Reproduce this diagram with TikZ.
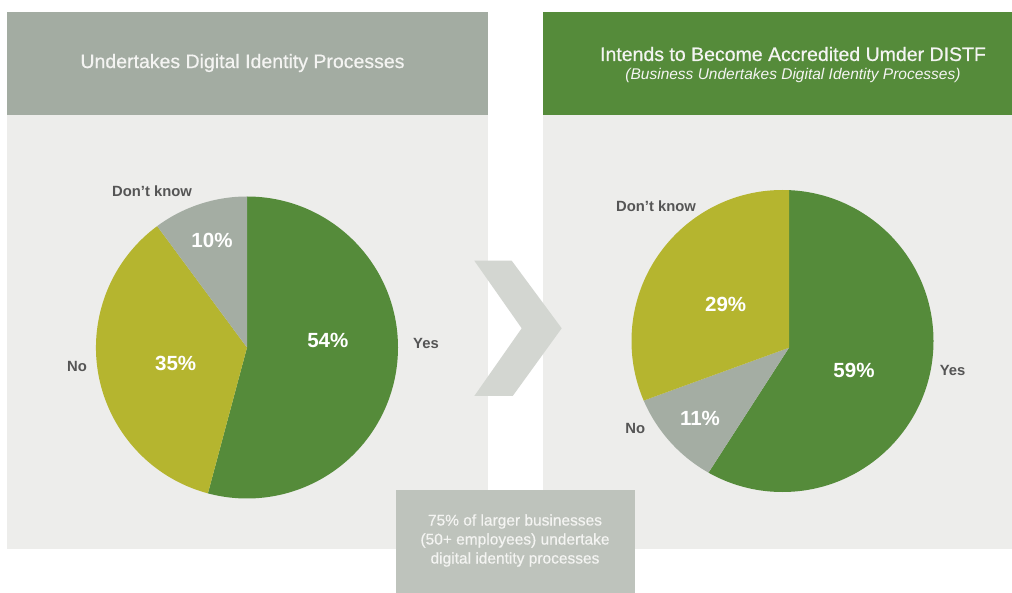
\documentclass[tikz,border=0pt]{standalone}
\usepackage{fontspec}
\setmainfont{Liberation Sans}
\newfontfamily\medfont[FakeBold=0.6]{Liberation Sans}
\newfontfamily\meditfont[FakeBold=0.4,FakeSlant=0.2]{Liberation Sans}
\definecolor{hdrgray}{HTML}{A3ACA2}
\definecolor{hdrgreen}{HTML}{558B3A}
\definecolor{bodybg}{HTML}{EDEDEB}
\definecolor{pieyes}{HTML}{558B3A}
\definecolor{pieno}{HTML}{B5B52F}
\definecolor{piedk}{HTML}{A4ADA3}
\definecolor{callbg}{HTML}{BEC3BC}
\definecolor{chev}{HTML}{D3D6D1}
\definecolor{labtxt}{HTML}{555555}
\definecolor{ltxt}{HTML}{F4F4F2}
\tikzset{
  title/.style={text=ltxt, font=\medfont\fontsize{19.5}{22}\selectfont, inner sep=0pt, align=center},
  subtitle/.style={text=ltxt, font=\fontsize{15.5}{18}\selectfont\itshape, inner sep=0pt},
  pct/.style={text=white, font=\fontsize{20.5}{24}\selectfont\bfseries, inner sep=0pt},
  lab/.style={text=labtxt, font=\fontsize{14.8}{18}\selectfont\bfseries, inner sep=0pt},
  calltxt/.style={text=ltxt, font=\medfont\fontsize{15.5}{19}\selectfont, inner sep=0pt, align=center},
}
\begin{document}
\begin{tikzpicture}[x=1pt,y=-1pt]
\useasboundingbox (0,0) rectangle (1012,593);
\fill[white] (0,0) rectangle (1012,593);
% panels
\fill[bodybg] (7,115) rectangle (488,549);
\fill[hdrgray] (7,12) rectangle (488,115);
\fill[bodybg] (543,115) rectangle (1012,549);
\fill[hdrgreen] (543,12) rectangle (1012,115);
\node[title] (t1) at (242.5,63) {Undertakes Digital Identity Processes};
\node[title] (t2) at (793,54) {Intends to Become Accredited Umder DISTF};
\node[subtitle] (t3) at (793,75) {(Business Undertakes Digital Identity Processes)};
% left pie
\begin{scope}[shift={(247,347.5)}, yscale=-1]
  \fill[pieyes] (0,0) -- (90:151) arc[start angle=90, end angle=-105, radius=151] -- cycle;
  \fill[pieno] (0,0) -- (-105:151) arc[start angle=-105, end angle=-233.5, radius=151] -- cycle;
  \fill[piedk] (0,0) -- (126.5:151) arc[start angle=126.5, end angle=90, radius=151] -- cycle;
\end{scope}
% right pie
\begin{scope}
  \clip (782.5,341) circle[radius=151];
  \begin{scope}[shift={(789,347.7)}, yscale=-1]
    \fill[pieyes] (0,0) -- (90:320) arc[start angle=90, end angle=-122.8, radius=320] -- cycle;
    \fill[piedk] (0,0) -- (-122.8:320) arc[start angle=-122.8, end angle=-160, radius=320] -- cycle;
    \fill[pieno] (0,0) -- (-160:320) arc[start angle=-160, end angle=-270, radius=320] -- cycle;
  \end{scope}
\end{scope}
% pie labels
\node[pct] (p54) at (327.8,340) {54\%};
\node[pct] (p35) at (175.7,363.5) {35\%};
\node[pct] (p10) at (212,240) {10\%};
\node[lab] (lyes) at (426,343) {Yes};
\node[lab] (lno) at (77,366.7) {No};
\node[lab] (ldk) at (152,191.7) {Don’t know};
\node[pct] (p59) at (854,370) {59\%};
\node[pct] (p11) at (700,418.3) {11\%};
\node[pct] (p29) at (725.7,304) {29\%};
\node[lab] (ryes) at (952.5,370) {Yes};
\node[lab] (rno) at (635.3,428.3) {No};
\node[lab] (rdk) at (656,206) {Don’t know};
% chevron
\fill[chev] (474.3,260.7) -- (511.7,260.7) -- (561.7,328.3) -- (512.7,396) -- (474.3,396) -- (521.7,328.3) -- cycle;
% callout
\fill[callbg] (396,490) rectangle (635,593);
\node[calltxt] (call) at (515,540.5) {75\% of larger businesses\\(50+ employees) undertake\\digital identity processes};
\end{tikzpicture}
\end{document}
